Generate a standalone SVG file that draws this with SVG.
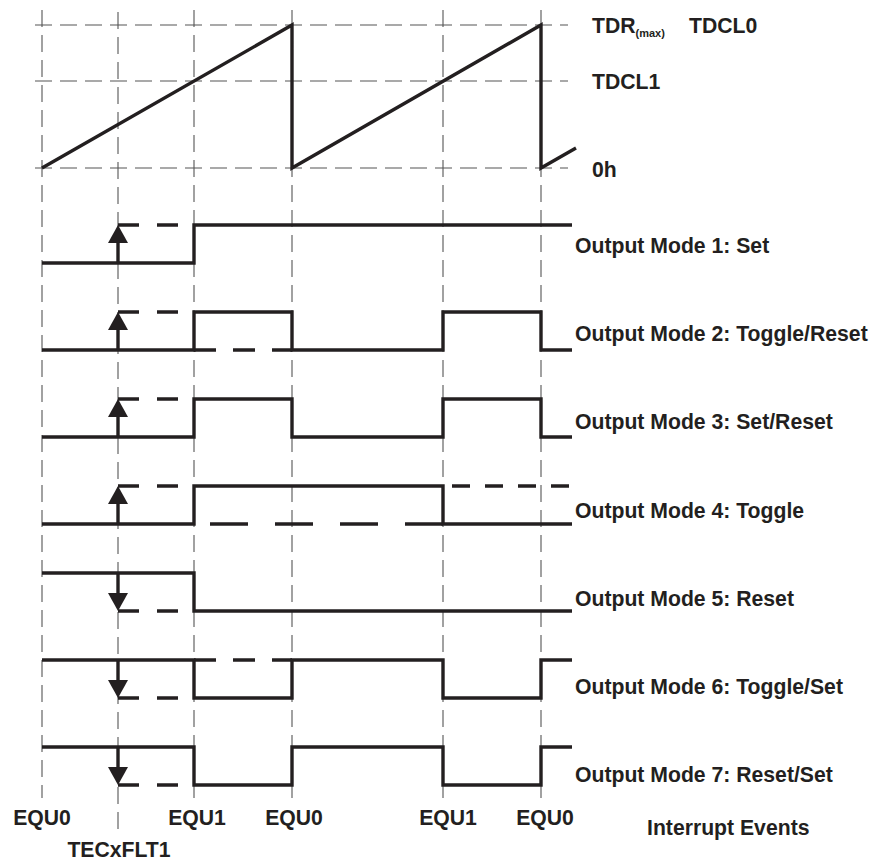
<svg xmlns="http://www.w3.org/2000/svg" width="873" height="862" viewBox="0 0 873 862">
<style>
.grid{stroke:#555;stroke-width:1.1;fill:none;stroke-dasharray:17 8}
.wave{stroke:#231f20;stroke-width:3.4;fill:none;stroke-linejoin:miter;stroke-linecap:butt}
.dsh{stroke:#231f20;stroke-width:3.4;fill:none;stroke-dasharray:21 18}
.dshL{stroke:#231f20;stroke-width:3.4;fill:none;stroke-dasharray:38 27}
.dshS{stroke:#231f20;stroke-width:3.4;fill:none;stroke-dasharray:18 15}
.arr{fill:#231f20;stroke:none}
text{font-family:"Liberation Sans",Arial,sans-serif;font-weight:bold;font-size:21.2px;fill:#231f20}
.sub{font-size:11px}
</style>
<rect width="873" height="862" fill="#fff"/>
<g id="grid">
<path class="grid" d="M35,25 H568 M35,81 H568 M35,168 H568"/>
<path class="grid" d="M42,10 V798 M194,10 V798 M292,10 V798 M443,10 V798 M541,10 V798"/>
<path class="grid" d="M118,12 V833"/>
</g>
<g id="ramp">
<path class="wave" d="M42,168 L292,25 V168 L541,25 V168 L576,148"/>
</g>
<g id="labels-levels">
<text x="592" y="33">TDR<tspan class="sub" dy="4">(max)</tspan></text>
<text x="689" y="33">TDCL0</text>
<text x="592" y="89">TDCL1</text>
<text x="592" y="177">0h</text>
</g>
<g id="connectors">
<g id="mode1">
<path class="wave" d="M42,263 H194 V225 H572"/>
<path class="dsh" d="M118,225 H194"/>
<path class="wave" d="M118,263 V240"/>
<polygon class="arr" points="118,225 108,243 128,243"/>
</g>
<g id="mode2">
<path class="wave" d="M42,350 H194 V312 H292 V350 H443 V312 H541 V350 H572"/>
<path class="dsh" d="M118,312 H194"/>
<path class="dsh" d="M194,350 H292" style="stroke-dasharray:22 17"/>
<path class="wave" d="M118,350 V327"/>
<polygon class="arr" points="118,312 108,330 128,330"/>
</g>
<g id="mode3">
<path class="wave" d="M42,437 H194 V399 H292 V437 H443 V399 H541 V437 H572"/>
<path class="dsh" d="M118,399 H194"/>
<path class="wave" d="M118,437 V414"/>
<polygon class="arr" points="118,399 108,417 128,417"/>
</g>
<g id="mode4">
<path class="wave" d="M42,524 H194 V486 H443 V524 H572"/>
<path class="dsh" d="M118,486 H194"/>
<path class="dshL" d="M210,524 H443"/>
<path class="dshS" d="M452,486 H572"/>
<path class="wave" d="M118,524 V501"/>
<polygon class="arr" points="118,486 108,504 128,504"/>
</g>
<g id="mode5">
<path class="wave" d="M42,573 H194 V611 H572"/>
<path class="dsh" d="M118,611 H194"/>
<path class="wave" d="M118,573 V596"/>
<polygon class="arr" points="118,611 108,593 128,593"/>
</g>
<g id="mode6">
<path class="wave" d="M42,660 H194 V698 H292 V660 H443 V698 H541 V660 H572"/>
<path class="dsh" d="M194,660 H292" style="stroke-dasharray:22 17"/>
<path class="dsh" d="M118,698 H194"/>
<path class="wave" d="M118,660 V683"/>
<polygon class="arr" points="118,698 108,680 128,680"/>
</g>
<g id="mode7">
<path class="wave" d="M42,747 H194 V785 H292 V747 H443 V785 H541 V747 H572"/>
<path class="dsh" d="M118,785 H194"/>
<path class="wave" d="M118,747 V770"/>
<polygon class="arr" points="118,785 108,767 128,767"/>
</g>
</g>
<g id="mode-labels">
<text x="575" y="253">Output Mode 1: Set</text>
<text x="575" y="341">Output Mode 2: Toggle/Reset</text>
<text x="575" y="429">Output Mode 3: Set/Reset</text>
<text x="575" y="518">Output Mode 4: Toggle</text>
<text x="575" y="606">Output Mode 5: Reset</text>
<text x="575" y="694">Output Mode 6: Toggle/Set</text>
<text x="575" y="782">Output Mode 7: Reset/Set</text>
</g>
<g id="event-labels" text-anchor="middle">
<text x="42" y="825">EQU0</text>
<text x="197" y="825">EQU1</text>
<text x="294" y="825">EQU0</text>
<text x="448" y="825">EQU1</text>
<text x="545" y="825">EQU0</text>
<text x="119" y="857">TECxFLT1</text>
</g>
<g id="interrupt-label">
<text x="647" y="835">Interrupt Events</text>
</g>
</svg>
